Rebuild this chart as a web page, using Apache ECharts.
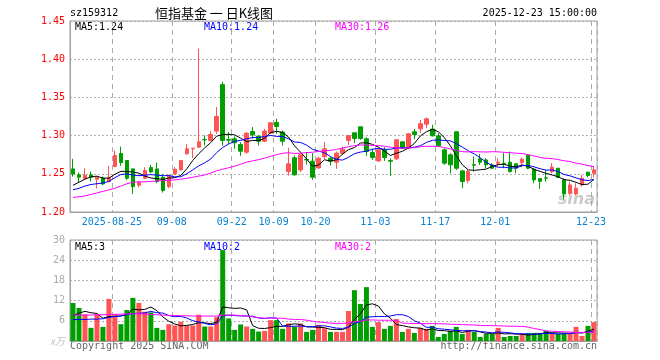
<!DOCTYPE html>
<html><head><meta charset="utf-8">
<script src="https://cdn.jsdelivr.net/npm/echarts@6/dist/echarts.min.js"></script>
<style>html,body{margin:0;padding:0;background:#fff}#c{width:660px;height:360px}</style>
</head><body><div id="c"></div>
<script>
const dates = [
'2025-08-14','2025-08-15','2025-08-18','2025-08-19','2025-08-20','2025-08-21','2025-08-22','2025-08-25','2025-08-26','2025-08-27','2025-08-28','2025-08-29',
'2025-09-01','2025-09-02','2025-09-03','2025-09-04','2025-09-05','2025-09-08','2025-09-09','2025-09-10','2025-09-11','2025-09-12',
'2025-09-15','2025-09-16','2025-09-17','2025-09-18','2025-09-19','2025-09-22','2025-09-23','2025-09-24','2025-09-25','2025-09-26','2025-09-29','2025-09-30',
'2025-10-09','2025-10-10','2025-10-13','2025-10-14','2025-10-15','2025-10-16','2025-10-17','2025-10-20','2025-10-21','2025-10-22','2025-10-23','2025-10-24',
'2025-10-27','2025-10-28','2025-10-29','2025-10-30','2025-10-31',
'2025-11-03','2025-11-04','2025-11-05','2025-11-06','2025-11-07','2025-11-10','2025-11-11','2025-11-12','2025-11-13','2025-11-14',
'2025-11-17','2025-11-18','2025-11-19','2025-11-20','2025-11-21','2025-11-24','2025-11-25','2025-11-26','2025-11-27','2025-11-28',
'2025-12-01','2025-12-02','2025-12-03','2025-12-04','2025-12-05','2025-12-08','2025-12-09','2025-12-10','2025-12-11','2025-12-12',
'2025-12-15','2025-12-16','2025-12-17','2025-12-18','2025-12-19','2025-12-22','2025-12-23'];
const tickDates = ['2025-08-25','2025-09-08','2025-09-22','2025-10-09','2025-10-20','2025-11-03','2025-11-17','2025-12-01','2025-12-23'];
const opens = [1.2564,1.2486,1.2437,1.2486,1.2429,1.2446,1.2398,1.2595,1.2766,1.2674,
1.2564,1.2350,1.2442,1.2582,1.2564,1.2451,1.2332,1.2499,1.2551,1.2761,
1.2827,1.2849,1.2950,1.2936,1.3059,1.3667,1.2950,1.2958,1.2884,1.2783,
1.3054,1.2993,1.2927,1.3032,1.3172,1.3046,1.2529,1.2709,1.2551,1.2687,
1.2665,1.2577,1.2726,1.2704,1.2652,1.2770,1.2936,1.3037,1.3115,1.2958,
1.2779,1.2669,1.2814,1.2674,1.2696,1.2919,1.2836,1.3050,1.3089,1.3150,
1.3085,1.2997,1.2814,1.2748,1.3050,1.2538,1.2411,1.2620,1.2696,1.2682,
1.2617,1.2639,1.2639,1.2652,1.2630,1.2647,1.2744,1.2560,1.2437,1.2446,
1.2529,1.2573,1.2420,1.2245,1.2236,1.2354,1.2521,1.2507];
const closes = [1.2499,1.2455,1.2481,1.2455,1.2455,1.2367,1.2455,1.2739,1.2647,1.2442,
1.2332,1.2385,1.2542,1.2525,1.2398,1.2280,1.2481,1.2560,1.2674,1.2827,
1.2836,1.2919,1.2945,1.3015,1.3251,1.2936,1.2940,1.2906,1.2796,1.3032,
1.3010,1.2927,1.3059,1.3168,1.3120,1.2927,1.2630,1.2486,1.2748,1.2682,
1.2455,1.2704,1.2827,1.2665,1.2770,1.2822,1.2997,1.2962,1.2962,1.2792,
1.2713,1.2814,1.2713,1.2665,1.2945,1.2836,1.3024,1.3015,1.3155,1.3220,
1.2997,1.2866,1.2639,1.2617,1.2573,1.2398,1.2529,1.2612,1.2652,1.2617,
1.2573,1.2652,1.2630,1.2529,1.2573,1.2691,1.2573,1.2420,1.2402,1.2442,
1.2586,1.2455,1.2236,1.2354,1.2311,1.2442,1.2477,1.2551];
const highs = [1.2696,1.2516,1.2573,1.2529,1.2464,1.2464,1.2604,1.2805,1.2857,1.2674,
1.2573,1.2411,1.2586,1.2617,1.2647,1.2499,1.2486,1.2586,1.2682,1.2888,
1.2836,1.4139,1.3002,1.3059,1.3374,1.3702,1.3046,1.2989,1.2914,1.3046,
1.3111,1.3002,1.3089,1.3168,1.3220,1.3067,1.2840,1.2739,1.2770,1.2783,
1.2770,1.2726,1.2914,1.2717,1.2792,1.2857,1.3010,1.3037,1.3115,1.2980,
1.2827,1.2822,1.2849,1.2704,1.2954,1.2919,1.3032,1.3089,1.3207,1.3238,
1.3142,1.3032,1.2836,1.2770,1.3050,1.2551,1.2551,1.2726,1.2757,1.2704,
1.2639,1.2704,1.2770,1.2792,1.2639,1.2717,1.2744,1.2573,1.2437,1.2551,
1.2639,1.2573,1.2442,1.2398,1.2376,1.2486,1.2529,1.2595];
const lows = [1.2464,1.2385,1.2420,1.2398,1.2311,1.2350,1.2389,1.2586,1.2604,1.2420,
1.2236,1.2324,1.2429,1.2507,1.2376,1.2254,1.2311,1.2486,1.2542,1.2748,
1.2704,1.2840,1.2871,1.2927,1.3024,1.2871,1.2892,1.2827,1.2735,1.2761,
1.2958,1.2871,1.2914,1.3024,1.3024,1.2871,1.2477,1.2477,1.2521,1.2621,
1.2420,1.2564,1.2696,1.2608,1.2564,1.2748,1.2879,1.2901,1.2945,1.2735,
1.2682,1.2656,1.2669,1.2472,1.2682,1.2822,1.2822,1.2954,1.3032,1.3098,
1.2989,1.2849,1.2617,1.2507,1.2551,1.2311,1.2376,1.2529,1.2617,1.2573,
1.2560,1.2595,1.2573,1.2516,1.2507,1.2586,1.2560,1.2376,1.2302,1.2398,
1.2507,1.2442,1.2166,1.2223,1.2223,1.2332,1.2455,1.2455];
const volumes = [11.3,9.8,7.9,3.9,7.9,4.2,12.5,7.9,5.0,9.2,
12.8,11.3,8.7,8.5,3.9,3.3,5.0,4.6,5.7,4.6,
4.6,7.8,4.3,4.3,7.1,27.0,6.7,3.3,4.9,4.3,
3.6,2.8,3.0,6.2,6.2,3.6,5.2,4.3,5.2,2.7,
3.3,4.8,3.8,2.7,2.7,2.7,8.9,15.1,11.0,16.0,
4.2,5.6,3.6,4.5,6.5,2.7,3.6,2.4,3.9,3.6,
4.5,1.2,2.1,3.0,4.2,2.1,3.3,2.7,1.2,2.1,
2.1,3.9,1.2,1.5,1.5,2.1,2.4,2.4,2.4,3.0,
2.1,2.1,2.1,2.1,4.2,1.5,4.5,5.6];
// moving-average values before enough history exists
const priceMA5Head = [1.235,1.239,1.243,1.246];
const priceMA10Head = [1.229,1.231,1.234,1.236,1.237,1.238,1.240,1.245,1.249];
const priceMA30Head = [1.219,1.220,1.221,1.223,1.225,1.227,1.229,1.231,1.234,1.237,
1.239,1.2395,1.2395,1.240,1.2405,1.241,1.2415,1.242,1.243,1.244,
1.2455,1.247,1.2485,1.251,1.254,1.256,1.258,1.260,1.2625];
const volMA5Head = [7.5,8.3,8.8,8.4];
const volMA10Head = [6.4,6.4,6.4,6.5,6.5,6.6,7.0,7.3,7.4];
const volMA30Head = [7.7,7.7,7.7,7.7,7.8,7.8,7.9,7.9,8.0,8.0,
8.1,8.1,8.0,7.9,7.8,7.7,7.6,7.6,7.5,7.5,
7.4,7.4,7.4,7.4,7.4,7.7,7.7,7.7,7.5];
const priceTicks = {min:1.20, max:1.45, step:0.05};
const volTicks = {min:0, max:30, step:6};

function movingAvg(vals, n, head){
  return vals.map((v,i)=>{
    if(i < n-1) return head[i];
    let s=0; for(let k=i-n+1;k<=i;k++) s+=vals[k];
    return s/n;
  });
}
const pMA5 = movingAvg(closes,5,priceMA5Head);
const pMA10 = movingAvg(closes,10,priceMA10Head);
const pMA30 = movingAvg(closes,30,priceMA30Head);
const vMA5 = movingAvg(volumes,5,volMA5Head);
const vMA10 = movingAvg(volumes,10,volMA10Head);
const vMA30 = movingAvg(volumes,30,volMA30Head);

const RED='#ff5454', GREEN='#009f00', MONO='DejaVu Sans Mono';
const tickSet = new Set(tickDates);
const candles = dates.map((d,i)=>[opens[i],closes[i],lows[i],highs[i]]);
const volData = volumes.map((v,i)=>({value:v,itemStyle:{color: closes[i]>=opens[i]?RED:GREEN}}));
const last = a => a[a.length-1];

const chart = echarts.init(document.getElementById('c'));
const splitV = {show:true, interval:(i,v)=>tickSet.has(v), lineStyle:{color:'#aaaaaa',width:1,type:[5,4]}};
const txt = (x,y,t,fill,extra)=>Object.assign({type:'text',x:x,y:y,silent:true,
  style:Object.assign({text:t,fill:fill,font:'10px "DejaVu Sans Mono"',textVerticalAlign:'middle'},extra||{})});
chart.setOption({
  animation:false,
  textStyle:{fontFamily:MONO},
  grid:[{left:70,top:21,width:527,height:191,show:true,borderColor:'#a0a0a0',borderWidth:1},
        {left:70,top:240,width:527,height:101,show:true,borderColor:'#a0a0a0',borderWidth:1}],
  xAxis:[
    {type:'category',data:dates,gridIndex:0,boundaryGap:true,
     axisLine:{lineStyle:{color:'#a0a0a0'}},axisTick:{show:false},
     axisLabel:{interval:(i,v)=>tickSet.has(v),formatter:v=>v===tickDates[0]?v:v.slice(5),
       color:'#0a82d2',fontSize:10,fontFamily:MONO,margin:5,padding:[0,6,0,0]},
     splitLine:splitV},
    {type:'category',data:dates,gridIndex:1,boundaryGap:true,
     axisLine:{lineStyle:{color:'#a0a0a0'}},axisTick:{show:false},axisLabel:{show:false},
     splitLine:splitV}
  ],
  yAxis:[
    {type:'value',gridIndex:0,min:priceTicks.min,max:priceTicks.max,interval:priceTicks.step,
     axisLine:{show:true,lineStyle:{color:'#a0a0a0'}},axisTick:{show:false},
     axisLabel:{color:'#ff0000',fontSize:10,fontFamily:MONO,margin:5,formatter:v=>v.toFixed(2)},
     splitLine:{show:true,lineStyle:{color:'#b0b0b0',type:[2,2]}}},
    {type:'value',gridIndex:1,min:volTicks.min,max:volTicks.max,interval:volTicks.step,
     axisLine:{show:true,lineStyle:{color:'#a0a0a0'}},axisTick:{show:false},
     axisLabel:{color:'#aaaaaa',fontSize:10,fontFamily:MONO,margin:5,
       formatter:v=>v===0?'{u|x万}':String(v),
       rich:{u:{color:'#c0c0c0',fontStyle:'italic',fontSize:10,fontFamily:'Noto Sans CJK SC'}}},
     splitLine:{show:true,lineStyle:{color:'#b0b0b0',type:[2,2]}}}
  ],
  series:[
    {type:'candlestick',xAxisIndex:0,yAxisIndex:0,data:candles,barWidth:4,
     itemStyle:{color:RED,color0:GREEN,borderColor:RED,borderColor0:GREEN,borderWidth:1}},
    {type:'line',xAxisIndex:0,yAxisIndex:0,data:pMA5,showSymbol:false,lineStyle:{color:'#000',width:1}},
    {type:'line',xAxisIndex:0,yAxisIndex:0,data:pMA10,showSymbol:false,lineStyle:{color:'#0000ff',width:1}},
    {type:'line',xAxisIndex:0,yAxisIndex:0,data:pMA30,showSymbol:false,lineStyle:{color:'#ff00ff',width:1}},
    {type:'bar',xAxisIndex:1,yAxisIndex:1,data:volData,barWidth:5},
    {type:'line',xAxisIndex:1,yAxisIndex:1,data:vMA5,showSymbol:false,lineStyle:{color:'#000',width:1}},
    {type:'line',xAxisIndex:1,yAxisIndex:1,data:vMA10,showSymbol:false,lineStyle:{color:'#0000ff',width:1}},
    {type:'line',xAxisIndex:1,yAxisIndex:1,data:vMA30,showSymbol:false,lineStyle:{color:'#ff00ff',width:1}}
  ],
  graphic:[
    txt(70,13,'sz159312','#000'),
    txt(214,13,'恒指基金 一 日K线图','#000',{font:'13px "Noto Sans CJK SC"',textAlign:'center'}),
    txt(597,13,'2025-12-23 15:00:00','#000',{textAlign:'right'}),
    txt(75,27,'MA5:'+last(pMA5).toFixed(2),'#000'),
    txt(204,27,'MA10:'+last(pMA10).toFixed(2),'#0000ff'),
    txt(335,27,'MA30:'+last(pMA30).toFixed(2),'#ff00ff'),
    txt(75,247,'MA5:'+Math.floor(last(vMA5)),'#000'),
    txt(204,247,'MA10:'+Math.floor(last(vMA10)),'#0000ff'),
    txt(335,247,'MA30:'+Math.floor(last(vMA30)),'#ff00ff'),
    txt(70,346,'Copyright 2025 SINA.COM','#666'),
    txt(597,346,'http://finance.sina.com.cn','#666',{textAlign:'right'}),
    txt(595,200,'sina','rgba(160,160,160,0.55)',{textAlign:'right',font:'italic bold 16px "DejaVu Sans"'})
  ]
});
</script></body></html>
